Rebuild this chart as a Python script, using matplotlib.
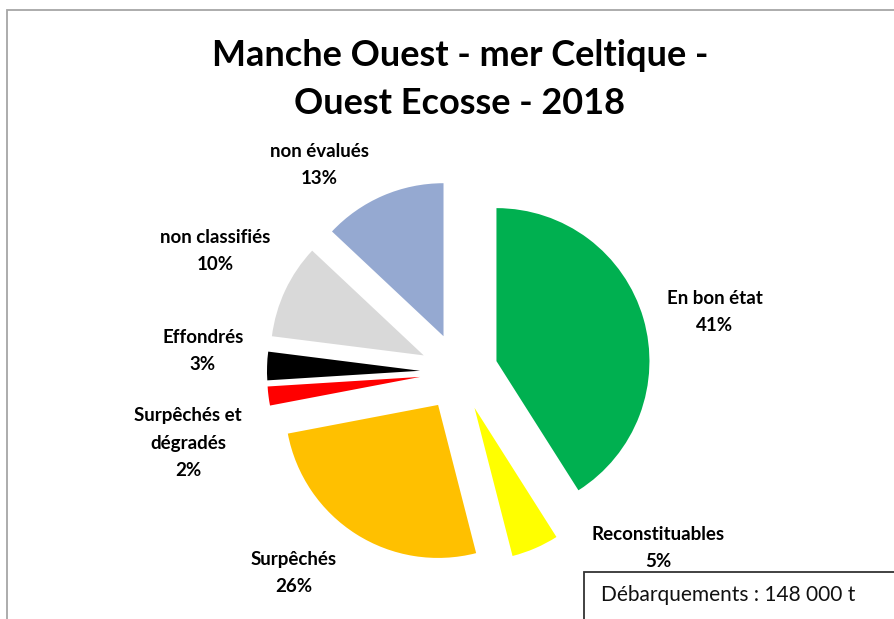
import matplotlib
matplotlib.use("Agg")
import matplotlib.pyplot as plt
from matplotlib.patches import Rectangle

# ---- data ----
categories = ["En bon état", "Reconstituables", "Surpêchés", "Surpêchés et\ndégradés",
              "Effondrés", "non classifiés", "non évalués"]
values = [41, 5, 26, 2, 3, 10, 13]
colors = ["#00B050", "#FFFF00", "#FFC000", "#FF0000", "#000000", "#D9D9D9", "#95A9D1"]
title_lines = ["Manche Ouest - mer Celtique -", "Ouest Ecosse - 2018"]
note = "Débarquements : 148 000 t"

# ---- layout (pixel space) ----
W, H = 894, 619
def Y(y):
    return H - y

center = (459, Y(372))
radius = 153
explode_px = 39
label_pos = [(715, 312), (658, 548), (294, 573), (188, 443), (203, 351), (215, 251), (319, 165)]

plt.rcParams['font.family'] = ['Lato', 'DejaVu Sans']

fig = plt.figure(figsize=(W / 100, H / 100), dpi=100)
ax = fig.add_axes([0, 0, 1, 1])

labels = [f"{c}\n{v}%" for c, v in zip(categories, values)]
wedges, texts = ax.pie(values, labels=labels, colors=colors, startangle=90,
                       counterclock=False, center=center, radius=radius,
                       explode=[explode_px] * len(values),
                       wedgeprops=dict(linewidth=0),
                       textprops=dict(fontsize=13.5, fontweight='bold', color='black'))
for t, (x, y) in zip(texts, label_pos):
    t.set_position((x, Y(y)))
    t.set_ha('center')
    t.set_va('center')
    t.set_multialignment('center')
    t.set_linespacing(1.72)

ax.set_xlim(0, W)
ax.set_ylim(0, H)
ax.set_aspect('equal')
ax.axis('off')

# outer frame (partially outside image)
ax.add_patch(Rectangle((7, -50), 1000, Y(10) + 50, fill=False, edgecolor='#A6A6A6',
                       linewidth=1.3))
# title
for line, yb in zip(title_lines, [66.5, 114.5]):
    ax.text(460, Y(yb), line, ha='center', va='baseline', fontsize=26, fontweight='bold')
# landings box
ax.add_patch(Rectangle((584, -50), 400, Y(572) + 50, fill=False, edgecolor='#333333',
                       linewidth=1.3, zorder=5))
ax.text(601, Y(595), note, ha='left', va='center', fontsize=15, color='#111111')

fig.savefig("out.png", dpi=100)
